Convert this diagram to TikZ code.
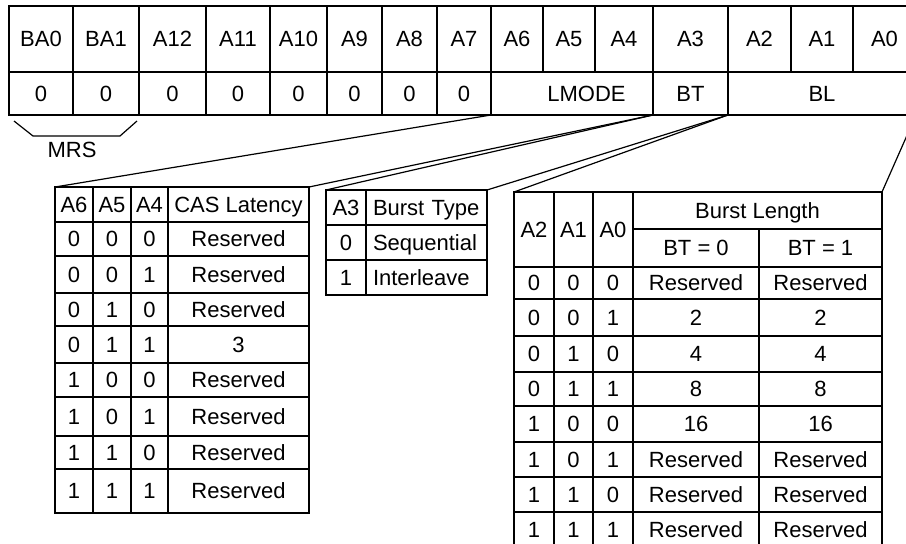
\documentclass[tikz,border=0pt]{standalone}
\usepackage{fontspec}
\setmainfont{Liberation Sans}

\begin{document}
\begin{tikzpicture}[x=1pt, y=-1pt, font=\fontsize{22}{26}\selectfont, cell/.style={draw, rectangle, inner sep=0pt, outer sep=0pt, line width=1.2pt, text height=15.8pt, text depth=0pt}, lefttxt/.style={inner xsep=7pt, text width=107pt, align=left}, link/.style={line width=1.2pt}]
            \useasboundingbox (0,0) rectangle (906,544);
            \fill[white] (0,0) rectangle (906,544);
            \clip (0,0) rectangle (906,544);
            % register
            \foreach \nm/\xa/\xb/\txt in {ba0/9/73/BA0, ba1/73/139/BA1, a12/139/206/A12, a11/206/270/A11, a10/270/327/A10, a9/327/382/A9, a8/382/437/A8, a7/437/491/A7, a6/491/543/A6, a5/543/595/A5, a4/595/653/A4, a3/653/728/A3, a2/728/791/A2, a1/791/853/A1, a0/853/916/A0}
                \node[cell, minimum width={\xb-\xa}, minimum height=66] (\nm) at ({(\xa+\xb)/2},39) {\txt};
            \foreach \nm/\xa/\xb/\txt in {z0/9/73/0, z1/73/139/0, z2/139/206/0, z3/206/270/0, z4/270/327/0, z5/327/382/0, z6/382/437/0, z7/437/491/0, bt/653/728/BT, bl/728/916/BL}
                \node[cell, minimum width={\xb-\xa}, minimum height=43] (\nm) at ({(\xa+\xb)/2},93.5) {\txt};
            \node[cell, minimum width=162, minimum height=43] (lmode) at (572,93.5) {\hspace*{29pt}LMODE};
            % MRS bracket
            \draw[link] (14,121) -- (33,136) -- (120,136) -- (137,121);
            \node (mrs) at (72,150) {MRS};
            % CAS latency table
            \foreach \r/\ya/\yb/\p/\q/\s/\v in {h/187/222/A6/A5/A4/CAS Latency, 1/222/256/0/0/0/Reserved, 2/256/293/0/0/1/Reserved, 3/293/326/0/1/0/Reserved, 4/326/363/0/1/1/3, 5/363/397/1/0/0/Reserved, 6/397/436/1/0/1/Reserved, 7/436/469/1/1/0/Reserved, 8/469/513/1/1/1/Reserved} {
                \node[cell, minimum width=38, minimum height={\yb-\ya}] (cas\r-a) at (74,{(\ya+\yb)/2}) {\p};
                \node[cell, minimum width=38, minimum height={\yb-\ya}] (cas\r-b) at (112,{(\ya+\yb)/2}) {\q};
                \node[cell, minimum width=37, minimum height={\yb-\ya}] (cas\r-c) at (149.5,{(\ya+\yb)/2}) {\s};
                \node[cell, minimum width=141, minimum height={\yb-\ya}] (cas\r-d) at (238.5,{(\ya+\yb)/2}) {\v};
            }
            % burst type table
            \foreach \r/\ya/\yb/\p/\v in {h/190/225/A3/Burst Type, 1/225/260/0/Sequential, 2/260/295/1/Interleave} {
                \node[cell, minimum width=40, minimum height={\yb-\ya}] (typ\r-a) at (346,{(\ya+\yb)/2}) {\p};
                \node[cell, lefttxt, minimum width=121, minimum height={\yb-\ya}] (typ\r-b) at (426.5,{(\ya+\yb)/2}) {\v};
            }
            % burst length table
            \node[cell, minimum width=40, minimum height=75] (lenh-a) at (534,229.5) {A2};
            \node[cell, minimum width=39, minimum height=75] (lenh-b) at (573.5,229.5) {A1};
            \node[cell, minimum width=40, minimum height=75] (lenh-c) at (613,229.5) {A0};
            \node[cell, minimum width=249, minimum height=37] (lenh) at (757.5,210.5) {Burst Length};
            \node[cell, minimum width=126, minimum height=38] (lenbt0) at (696,248) {BT = 0};
            \node[cell, minimum width=123, minimum height=38] (lenbt1) at (820.5,248) {BT = 1};
            \foreach \r/\ya/\yb/\p/\q/\s/\u/\v in {1/267/299/0/0/0/Reserved/Reserved, 2/299/336/0/0/1/2/2, 3/336/372/0/1/0/4/4, 4/372/406/0/1/1/8/8, 5/406/442/1/0/0/16/16, 6/442/477/1/0/1/Reserved/Reserved, 7/477/512/1/1/0/Reserved/Reserved, 8/512/547/1/1/1/Reserved/Reserved} {
                \node[cell, minimum width=40, minimum height={\yb-\ya}] (len\r-a) at (534,{(\ya+\yb)/2}) {\p};
                \node[cell, minimum width=39, minimum height={\yb-\ya}] (len\r-b) at (573.5,{(\ya+\yb)/2}) {\q};
                \node[cell, minimum width=40, minimum height={\yb-\ya}] (len\r-c) at (613,{(\ya+\yb)/2}) {\s};
                \node[cell, minimum width=126, minimum height={\yb-\ya}] (len\r-d) at (696,{(\ya+\yb)/2}) {\u};
                \node[cell, minimum width=123, minimum height={\yb-\ya}] (len\r-e) at (820.5,{(\ya+\yb)/2}) {\v};
            }
            % edges
            \draw[link] (lmode.south west) -- (cash-a.north west);
            \draw[link] (lmode.south east) -- (cash-d.north east);
            \draw[link] (bt.south west) -- (typh-a.north west);
            \draw[link] (bt.south east) -- (typh-b.north east);
            \draw[link] (bl.south west) -- (lenh-a.north west);
            \draw[link] (bl.south east) -- (lenh.north east);
        \end{tikzpicture}
\end{document}
